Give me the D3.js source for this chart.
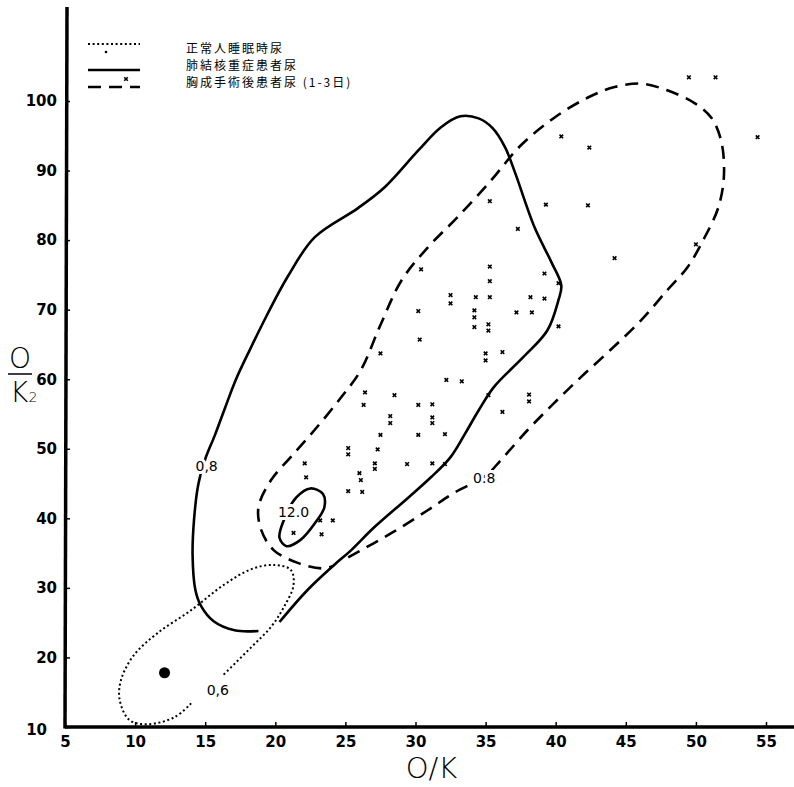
<!DOCTYPE html>
<meta charset="utf-8">
<head>
  <style>
    body { margin: 0; background: #fff; }
    svg { display: block; }
    .tick text { font-family: "DejaVu Sans", sans-serif; font-weight: bold; font-size: 15px; }
    .contour { fill: none; stroke: #000; }
    .clabel { font-family: "DejaVu Sans", sans-serif; font-size: 14px; fill: #000;
              stroke: #fff; stroke-width: 6px; paint-order: stroke; }
    .legend text { font-family: "Noto Sans CJK JP", sans-serif; font-size: 12px; letter-spacing: 2px; }
  </style>
</head>
<body>
<script src="https://d3js.org/d3.v7.min.js"></script>
<script>
// axis ticks
const xTicks = [5, 10, 15, 20, 25, 30, 35, 40, 45, 50, 55];
const yTicks = [10, 20, 30, 40, 50, 60, 70, 80, 90, 100];

// legend
const legendLabels = ["正常人睡眠時尿", "肺結核重症患者尿", "胸成手術後患者尿 (1-3日)"];

// contour lines, [O/K, O/K2]
const normalContour = [[14.0,13.4],[12.8,11.4],[10.9,10.4],[9.6,11.0],[8.9,13.9],[9.0,16.8],[9.9,20.3],
  [11.6,23.5],[14.0,26.8],[16.3,30.4],[18.3,32.7],[19.9,33.3],[21.1,32.6],[21.3,30.4],[20.6,27.2],
  [19.7,24.4],[18.3,21.5],[16.3,17.5]];

const tbContour = [[18.8,23.8],[17.1,23.9],[15.6,25.2],[14.7,27.4],[14.3,29.7],[14.1,34.7],[14.2,39.7],
  [14.5,44.8],[15.0,48.5],[15.7,52.0],[16.4,55.8],[17.2,60.0],[18.2,64.3],[19.4,69.2],[20.9,74.8],
  [22.8,80.4],[25.9,84.6],[27.8,87.6],[30.2,92.9],[31.8,96.2],[33.2,97.8],[34.5,97.5],[35.5,96.1],
  [36.4,93.3],[37.1,89.7],[38.5,81.8],[39.7,76.8],[40.4,73.5],[40.2,71.4],[39.4,67.0],[37.7,63.2],
  [35.6,58.9],[34.5,55.5],[33.6,52.4],[32.5,48.8],[31.1,45.9],[29.5,43.0],[27.0,38.6],[25.4,35.4],
  [24.2,33.3],[22.3,29.7],[20.3,25.1]];

const tbInner = [[22.5,44.3],[23.4,43.5],[23.5,41.6],[22.9,39.5],[21.8,36.9],[20.8,36.0],[20.3,37.2],
  [20.6,39.7],[21.5,43.0]];

const postopContour = [[25.2,34.4],[28.3,37.9],[30.9,41.2],[32.7,43.6],[35.0,46.1],[36.1,48.4],
  [38.0,52.7],[39.9,56.6],[41.8,60.3],[43.9,64.2],[46.1,68.5],[48.0,72.9],[49.4,76.1],[50.6,80.3],
  [51.6,84.7],[52.0,89.3],[51.8,94.3],[51.1,97.6],[49.9,99.7],[48.0,101.5],[46.1,102.5],[44.2,102.0],
  [42.3,100.5],[39.9,97.6],[37.5,93.6],[35.4,88.6],[33.0,83.3],[30.9,79.0],[29.0,74.2],[27.5,67.8],
  [26.1,61.3],[24.7,57.4],[22.8,52.7],[21.1,48.8],[19.7,45.5],[18.8,41.6],[19.0,38.3],[19.9,35.4],
  [21.6,33.6],[23.3,32.8],[24.1,33.1]];

// post-operative patients, individual samples
const postopPoints = [[49.5,103.4],[51.4,103.4],[54.4,94.8],[40.4,94.9],[42.4,93.3],[35.3,85.6],
  [39.3,85.1],[42.3,85.0],[37.3,81.6],[50.0,79.4],[44.2,77.4],[30.4,75.8],[35.3,76.2],[35.3,74.1],
  [39.2,75.2],[40.2,73.8],[32.5,72.1],[32.5,70.9],[34.3,71.8],[35.3,71.8],[38.2,71.8],[39.2,71.6],
  [30.2,69.8],[34.2,69.9],[34.2,68.9],[37.2,69.6],[38.3,69.6],[34.2,67.5],[35.2,67.9],[35.2,67.0],
  [40.2,67.6],[30.3,65.7],[27.5,63.7],[35.0,63.7],[35.0,62.7],[36.2,63.9],[32.2,59.9],[33.3,59.7],
  [26.4,58.1],[26.3,56.3],[28.5,57.7],[30.2,56.3],[31.2,56.4],[35.2,57.7],[38.1,57.8],[38.1,56.8],
  [28.2,54.7],[28.2,53.7],[31.2,54.5],[31.2,53.7],[36.2,55.3],[27.5,52.0],[30.2,52.0],[32.1,52.1],
  [25.2,50.1],[25.2,49.2],[27.3,49.9],[27.1,47.9],[27.1,47.1],[29.4,47.8],[31.2,47.9],[32.1,47.8],
  [22.1,47.9],[22.2,45.9],[26.0,46.5],[26.1,45.5],[25.2,43.9],[26.2,43.8],[23.2,39.7],[24.1,39.7],
  [23.3,37.7],[21.3,37.9]];

// normal subjects, mean value
const normalMean = [[12.1,17.8]];

const contourLabels = [
  {text: "0,8", at: [15.1, 47.5]},
  {text: "0.8", at: [34.9, 45.8]},
  {text: "12.0", at: [21.3, 40.9]},
  {text: "0,6", at: [15.9, 15.3]}
];

const width = 794, height = 787;

const x = d3.scaleLinear().domain([5, 55]).range([65, 766]);
const y = d3.scaleLinear().domain([10, 100]).range([727, 101]);

const svg = d3.select("body").append("svg")
  .attr("width", width)
  .attr("height", height)
  .style("background", "#fff");

const openLine = d3.line().x(d => x(d[0])).y(d => y(d[1])).curve(d3.curveCatmullRom.alpha(0.5));
const closedLine = d3.line().x(d => x(d[0])).y(d => y(d[1])).curve(d3.curveCatmullRomClosed.alpha(0.5));

// contours
svg.append("path").attr("class", "contour")
  .attr("d", openLine(normalContour))
  .attr("stroke-width", 2)
  .attr("stroke-dasharray", "2,2.6");

svg.append("path").attr("class", "contour")
  .attr("d", openLine(tbContour))
  .attr("stroke-width", 2.6);

svg.append("path").attr("class", "contour")
  .attr("d", closedLine(tbInner))
  .attr("stroke-width", 2.6);

svg.append("path").attr("class", "contour")
  .attr("d", openLine(postopContour))
  .attr("stroke-width", 2.6)
  .attr("stroke-dasharray", "13,8");

// sample points
svg.append("g").selectAll("path")
  .data(postopPoints)
  .join("path")
  .attr("transform", d => `translate(${x(d[0])},${y(d[1])})`)
  .attr("d", "M-1.8,-1.8L1.8,1.8M-1.8,1.8L1.8,-1.8")
  .attr("stroke", "#000")
  .attr("stroke-width", 1.6);

svg.append("g").selectAll("circle")
  .data(normalMean)
  .join("circle")
  .attr("cx", d => x(d[0]))
  .attr("cy", d => y(d[1]))
  .attr("r", 5.5)
  .attr("fill", "#000");

// contour value labels
svg.append("g").selectAll("text")
  .data(contourLabels)
  .join("text")
  .attr("class", "clabel")
  .attr("x", d => x(d.at[0]))
  .attr("y", d => y(d.at[1]))
  .attr("dy", "0.35em")
  .attr("text-anchor", "middle")
  .text(d => d.text);

// axes
const xAxis = svg.append("g")
  .attr("transform", `translate(0,${y(10)})`)
  .call(d3.axisBottom(x).tickValues(xTicks).tickSize(-5).tickPadding(9).tickFormat(d3.format("d")));
xAxis.select(".domain").remove();
xAxis.selectAll(".tick line").attr("stroke-width", 1.5);

const yAxis = svg.append("g")
  .attr("transform", `translate(${x(5)},0)`)
  .call(d3.axisLeft(y).tickValues(yTicks).tickSize(-5).tickPadding(8).tickFormat(d3.format("d")));
yAxis.select(".domain").remove();
yAxis.selectAll(".tick line").attr("stroke-width", 1.5);
yAxis.selectAll(".tick").filter(d => d === 10).select("text").attr("dx", -10).attr("dy", "0.5em");

svg.append("line")
  .attr("x1", x(5)).attr("x2", width)
  .attr("y1", y(10)).attr("y2", y(10))
  .attr("stroke", "#000").attr("stroke-width", 3.5);

svg.append("line")
  .attr("x1", x(5)).attr("x2", x(5) + 2)
  .attr("y1", y(10) + 1.5).attr("y2", 7)
  .attr("stroke", "#000").attr("stroke-width", 3.5);

// axis titles
svg.append("text")
  .attr("x", (x(5) + width) / 2 + 2)
  .attr("y", 778)
  .attr("text-anchor", "middle")
  .style("font-family", "DejaVu Sans, sans-serif")
  .style("font-weight", 200)
  .style("font-size", "29px")
  .text("O/K");

const yTitle = svg.append("g")
  .style("font-family", "DejaVu Sans, sans-serif")
  .style("font-weight", 200);
yTitle.append("text")
  .attr("x", 20).attr("y", 368)
  .attr("text-anchor", "middle")
  .style("font-size", "28px")
  .text("O");
yTitle.append("line")
  .attr("x1", 8).attr("x2", 32)
  .attr("y1", 374).attr("y2", 374)
  .attr("stroke", "#000").attr("stroke-width", 1.5);
const k2 = yTitle.append("text")
  .attr("x", 10).attr("y", 402)
  .style("font-size", "28px")
  .text("K");
k2.append("tspan")
  .attr("dy", 0)
  .style("font-size", "14px")
  .text("2");

// legend
const legend = svg.append("g").attr("class", "legend");
const styles = [
  {dash: "2,2.6", w: 2, off: -5},
  {dash: null, w: 2.6, off: 4},
  {dash: "13,8", w: 2.6, off: 4}
];
const rowY = d3.scalePoint().domain(legendLabels).range([49, 83]);
legend.selectAll("line")
  .data(legendLabels)
  .join("line")
  .attr("x1", 88).attr("x2", 140)
  .attr("y1", (d, i) => rowY(d) + styles[i].off)
  .attr("y2", (d, i) => rowY(d) + styles[i].off)
  .attr("stroke", "#000")
  .attr("stroke-width", (d, i) => styles[i].w)
  .attr("stroke-dasharray", (d, i) => styles[i].dash);
legend.selectAll("text")
  .data(legendLabels)
  .join("text")
  .attr("x", 186)
  .attr("y", d => rowY(d))
  .attr("dy", "0.35em")
  .text(d => d);
legend.append("circle").attr("cx", 106).attr("cy", 52).attr("r", 1.3).attr("fill", "#000");
legend.append("path")
  .attr("transform", "translate(126,79)")
  .attr("d", "M-1.8,-1.8L1.8,1.8M-1.8,1.8L1.8,-1.8")
  .attr("stroke", "#000").attr("stroke-width", 1.6);
</script>
</body>
